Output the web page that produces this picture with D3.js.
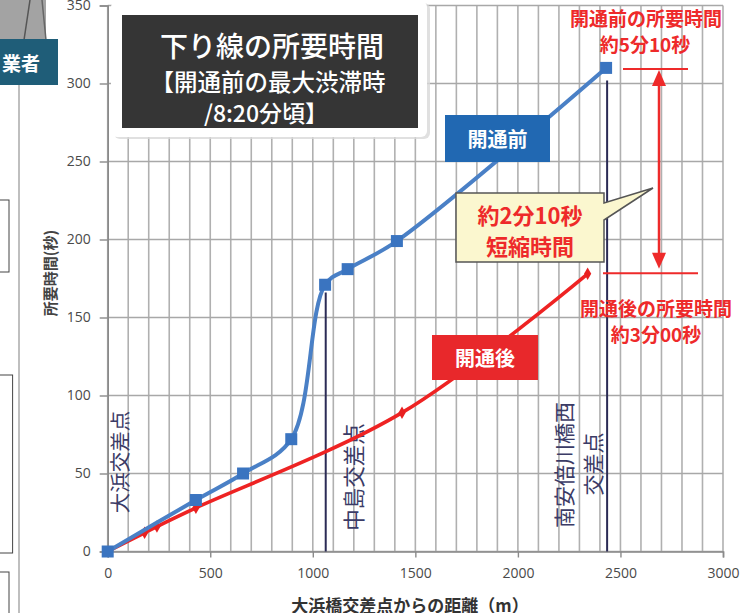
<!DOCTYPE html>
<html><head><meta charset="utf-8">
<script src="https://cdn.jsdelivr.net/npm/d3@7"></script>
<style>body{margin:0;background:#fff}svg{display:block}</style>
</head><body>
<svg id="c" width="750" height="613"></svg>
<script>
// ---- data ----
const distBefore = [0, 430, 660, 895, 1060, 1170, 1410, 2430];
const timeBefore = [0, 33, 50, 72, 171, 181, 199, 310];
const distAfter = [0, 180, 240, 430, 1435, 2340];
const timeAfter = [0, 12, 16, 28, 89, 178];
const xTicks = [0, 500, 1000, 1500, 2000, 2500, 3000];
const yTicks = [0, 50, 100, 150, 200, 250, 300, 350];
const landmarkDist = [0, 1063, 2435];
const landmarkTop = [0, 166, 302];
const landmarkNames = [["大浜交差点"], ["中島交差点"], ["南安倍川橋西", "交差点"]];
const titleLines = ["下り線の所要時間", "【開通前の最大渋滞時", "/8:20分頃】"];
const seriesNames = ["開通前", "開通後"];
const noteBefore = ["開通前の所要時間", "約5分10秒"];
const noteAfter = ["開通後の所要時間", "約3分00秒"];
const noteDiff = ["約2分10秒", "短縮時間"];
const xTitle = "大浜橋交差点からの距離（m）";
const yTitle = "所要時間(秒)";

const svg = d3.select("#c");
const x = d3.scaleLinear().domain([0, 3000]).range([107.7, 723]);
const y = d3.scaleLinear().domain([0, 350]).range([551.5, 5.5]);
const sans = "'Noto Sans CJK JP', 'Noto Sans', sans-serif";

// ---- left-side fragments of neighbouring figure ----
const lf = svg.append("g");
lf.append("rect").attr("x", 0).attr("y", 0).attr("width", 46).attr("height", 40).attr("fill", "#a3a3a3");
lf.append("line").attr("x1", 30).attr("y1", 0).attr("x2", 24).attr("y2", 40).attr("stroke", "#555").attr("stroke-width", 1.5);
lf.append("line").attr("x1", 42).attr("y1", 0).attr("x2", 46).attr("y2", 40).attr("stroke", "#666").attr("stroke-width", 1.5);
lf.append("rect").attr("x", 0).attr("y", 39).attr("width", 58).attr("height", 46).attr("fill", "#1f5d78");
lf.append("text").attr("x", 2).attr("y", 71).attr("fill", "#fff").attr("font-family", sans).attr("font-weight", "bold").attr("font-size", 19).text("業者");
lf.append("line").attr("x1", 19).attr("y1", 85).attr("x2", 19).attr("y2", 613).attr("stroke", "#aaa").attr("stroke-width", 1.5);
lf.append("rect").attr("x", -5).attr("y", 200).attr("width", 14).attr("height", 72).attr("fill", "none").attr("stroke", "#444");
lf.append("rect").attr("x", -5).attr("y", 375).attr("width", 17.6).attr("height", 178).attr("fill", "none").attr("stroke", "#444");
lf.append("rect").attr("x", -5).attr("y", 572).attr("width", 14).attr("height", 60).attr("fill", "none").attr("stroke", "#444");

// ---- grid ----
const grid = svg.append("g");
grid.selectAll(".vg").data(d3.range(0, 3001, 100)).join("line")
  .attr("x1", d => x(d)).attr("x2", d => x(d)).attr("y1", y(350)).attr("y2", y(0))
  .attr("stroke", "#b0b0b0").attr("stroke-width", 1.6);
grid.selectAll(".hg").data(yTicks).join("line")
  .attr("x1", x(0)).attr("x2", x(3000)).attr("y1", d => y(d)).attr("y2", d => y(d))
  .attr("stroke", "#a8a8a8").attr("stroke-width", 1.6);

// ---- axes ----
const xAxis = svg.append("g").attr("transform", `translate(0,${y(0)})`)
  .call(d3.axisBottom(x).tickValues(xTicks).tickFormat(d3.format("d")).tickSize(6).tickPadding(11));
const yAxis = svg.append("g").attr("transform", `translate(${x(0)},0)`)
  .call(d3.axisLeft(y).tickValues(yTicks).tickFormat(d3.format("d")).tickSize(8).tickPadding(9));
[xAxis, yAxis].forEach(a => {
  a.select(".domain").attr("stroke", "#8a8a8a").attr("stroke-width", 1.6);
  a.selectAll(".tick line").attr("stroke", "#8a8a8a").attr("stroke-width", 1.4);
  a.selectAll("text").attr("font-family", "'Open Sans', sans-serif").attr("font-size", 14).attr("fill", "#4a4a4a");
});

svg.append("text").attr("x", 410).attr("y", 612).attr("text-anchor", "middle")
  .attr("font-family", sans).attr("font-weight", "bold").attr("font-size", 17).attr("fill", "#333").text(xTitle);
svg.append("text").attr("transform", "translate(49,273) rotate(-90)").attr("text-anchor", "middle").attr("dominant-baseline", "central")
  .attr("font-family", sans).attr("font-weight", "bold").attr("font-size", 15).attr("fill", "#444").text(yTitle);

// ---- landmark lines ----
const lm = svg.append("g");
landmarkDist.forEach((d, i) => {
  if (landmarkTop[i] > 0) {
    lm.append("line").attr("x1", x(d)).attr("x2", x(d)).attr("y1", y(landmarkTop[i])).attr("y2", y(0))
      .attr("stroke", "#2b2b55").attr("stroke-width", 2);
  }
});
const lmText = (cx, cy, s, size) => lm.append("text").attr("transform", `translate(${cx},${cy}) rotate(-90)`)
  .attr("text-anchor", "middle").attr("dominant-baseline", "central")
  .attr("font-family", sans).attr("font-size", size).attr("fill", "#3b3b66").text(s);
lmText(x(landmarkDist[0]) + 11.5, 462, landmarkNames[0][0], 20.5);
lmText(x(landmarkDist[1]) + 27, 477, landmarkNames[1][0], 21.5);
lmText(x(landmarkDist[2]) - 44.5, 465, landmarkNames[2][0], 21);
lmText(x(landmarkDist[2]) - 15.5, 464, landmarkNames[2][1], 21);

// ---- series ----
const before = distBefore.map((d, i) => [d, timeBefore[i]]);
const after = distAfter.map((d, i) => [d, timeAfter[i]]);
const line = d3.line().x(d => x(d[0])).y(d => y(d[1])).curve(d3.curveCatmullRom.alpha(0.5));

svg.append("path").datum(after).attr("d", line).attr("fill", "none").attr("stroke", "#ee2323").attr("stroke-width", 3.6);
svg.append("g").selectAll("path").data(after.slice(1)).join("path")
  .attr("d", d3.symbol(d3.symbolDiamond, 45)())
  .attr("transform", d => `translate(${x(d[0])},${y(d[1])})`).attr("fill", "#e82020");

svg.append("path").datum(before).attr("d", line).attr("fill", "none").attr("stroke", "#4a80c6").attr("stroke-width", 4);
svg.append("g").selectAll("rect").data(before).join("rect")
  .attr("x", d => x(d[0]) - 6).attr("y", d => y(d[1]) - 6).attr("width", 12).attr("height", 12)
  .attr("fill", "#3a74c0");

// ---- title box ----
const tb = svg.append("g");
tb.append("rect").attr("x", 114).attr("y", 3).attr("width", 316).attr("height", 136).attr("rx", 6)
  .attr("fill", "#d8d8d8").attr("opacity", 0.8);
tb.append("rect").attr("x", 111).attr("y", 1).attr("width", 316).attr("height", 136).attr("rx", 6).attr("fill", "#fff");
tb.append("rect").attr("x", 122).attr("y", 15).attr("width", 296).attr("height", 113).attr("fill", "#353535");
[[272, 45, 28], [268, 81, 23.5], [266, 112, 23]].forEach((p, i) => {
  tb.append("text").attr("x", p[0]).attr("y", p[1]).attr("text-anchor", "middle").attr("dominant-baseline", "central")
    .attr("font-family", sans).attr("font-weight", 500).attr("font-size", p[2]).attr("fill", "#fff").text(titleLines[i]);
});

// ---- series labels ----
const lab = (x0, y0, w, h, fill, s) => {
  svg.append("rect").attr("x", x0).attr("y", y0).attr("width", w).attr("height", h).attr("fill", fill);
  svg.append("text").attr("x", x0 + w / 2).attr("y", y0 + h / 2).attr("text-anchor", "middle").attr("dominant-baseline", "central")
    .attr("font-family", sans).attr("font-weight", "bold").attr("font-size", 20).attr("fill", "#fff").text(s);
};
lab(445, 115, 105, 47, "#2168b2", seriesNames[0]);
lab(432, 335, 106, 45, "#e8282b", seriesNames[1]);

// ---- annotations ----
const red = "#ee2a2a";
const ann = svg.append("g");
const yB = y(timeBefore[timeBefore.length - 1]), yA = y(timeAfter[timeAfter.length - 1]);
ann.append("line").attr("x1", 623).attr("x2", 688).attr("y1", yB + 1).attr("y2", yB + 1).attr("stroke", red).attr("stroke-width", 2);
ann.append("line").attr("x1", 603).attr("x2", 698).attr("y1", yA - 0.5).attr("y2", yA - 0.5).attr("stroke", red).attr("stroke-width", 2);
const ax = 659, aTop = yB + 2, aBot = yA - 5;
ann.append("line").attr("x1", ax).attr("x2", ax).attr("y1", aTop + 14).attr("y2", aBot - 14).attr("stroke", red).attr("stroke-width", 2.5);
ann.append("path").attr("d", `M${ax},${aTop} L${ax - 7},${aTop + 16} L${ax + 7},${aTop + 16} Z`).attr("fill", red);
ann.append("path").attr("d", `M${ax},${aBot} L${ax - 7},${aBot - 16} L${ax + 7},${aBot - 16} Z`).attr("fill", red);

const redText = (cx, cy, s, size) => ann.append("text").attr("x", cx).attr("y", cy).attr("text-anchor", "middle").attr("dominant-baseline", "central")
  .attr("font-family", sans).attr("font-weight", "bold").attr("font-size", size).attr("fill", red).text(s);
redText(646, 17, noteBefore[0], 19);
redText(645, 43, noteBefore[1], 19);
redText(656, 307, noteAfter[0], 19);
redText(656, 333, noteAfter[1], 19);

// callout
ann.append("path").attr("d", "M456,193 L604,193 L604,203 L653,188 L604,220 L604,262 L456,262 Z")
  .attr("fill", "#fbf7cf").attr("stroke", "#555").attr("stroke-width", 1.5);
redText(530, 214, noteDiff[0], 22);
redText(530, 245, noteDiff[1], 22);
</script>
</body></html>
